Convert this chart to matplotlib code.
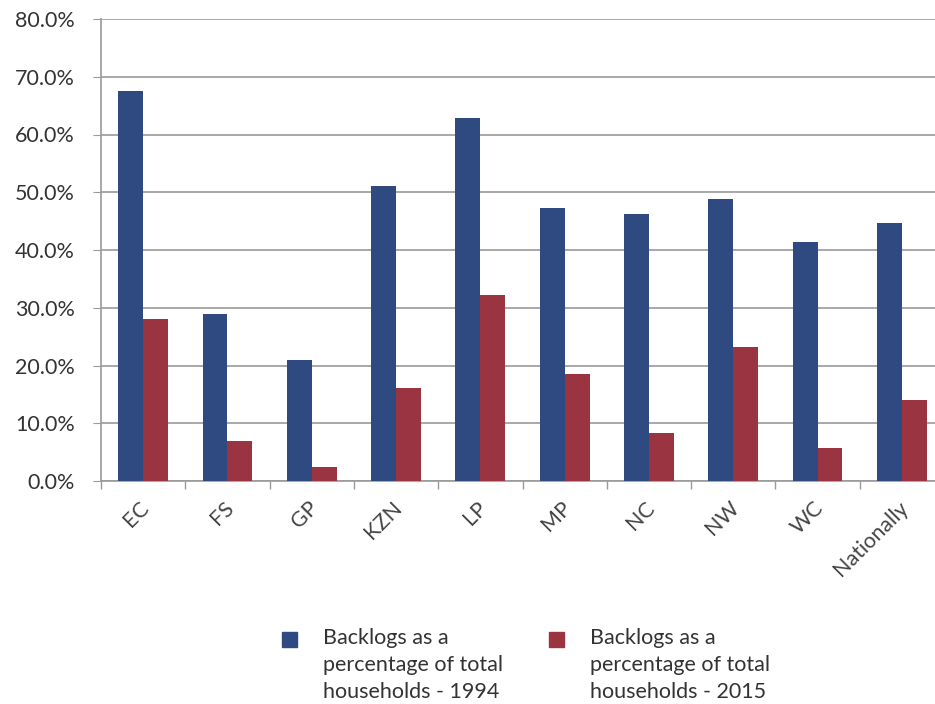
import matplotlib
matplotlib.use("Agg")
import matplotlib.pyplot as plt
import matplotlib.patches as mpatches
import matplotlib.transforms as mtransforms
import numpy as np
from matplotlib.ticker import FuncFormatter, FixedLocator

categories = ["EC", "FS", "GP", "KZN", "LP", "MP", "NC", "NW", "WC", "Nationally"]
backlog_1994 = [67.6, 29.0, 21.0, 51.1, 62.8, 47.3, 46.3, 48.9, 41.3, 44.7]
backlog_2015 = [28.1, 6.9, 2.4, 16.1, 32.2, 18.5, 8.3, 23.2, 5.7, 14.0]
series_labels = ["Backlogs as a\npercentage of total\nhouseholds - 1994",
                 "Backlogs as a\npercentage of total\nhouseholds - 2015"]
series_colors = ['#2E4A80', '#9A3441']

plt.rcParams['font.family'] = ['Lato', 'DejaVu Sans']
text_color = '#333333'
fs = 15.5

fig = plt.figure(figsize=(9.35, 7.04), dpi=100)
W, H = 935, 704
left, right, top, bottom = 101, 944, 19, 481
ax = fig.add_axes([left / W, 1 - bottom / H, (right - left) / W, (bottom - top) / H])

x = np.arange(len(categories))
bw = 0.295
b1 = ax.bar(x - bw / 2, backlog_1994, width=bw, color=series_colors[0], zorder=3)
b2 = ax.bar(x + bw / 2, backlog_2015, width=bw, color=series_colors[1], zorder=3)

ax.set_xlim(-0.5, len(categories) - 0.5)
ax.set_ylim(0, 80)
ax.set_yticks(np.arange(0, 81, 10))
ax.yaxis.set_major_formatter(FuncFormatter(lambda v, p: f"{v:.1f}%"))
ax.grid(axis='y', color='#9a9a9a', linewidth=1.2, zorder=0)

for s in ['top', 'right']:
    ax.spines[s].set_visible(False)
for s in ['left', 'bottom']:
    ax.spines[s].set_color('#9a9a9a')
    ax.spines[s].set_linewidth(1.2)

ax.tick_params(axis='y', length=6, color='#9a9a9a', labelsize=fs, labelcolor=text_color, pad=13)
ax.set_xticks(x)
ax.set_xticklabels(categories, rotation=45, ha='right', rotation_mode='anchor',
                   fontsize=fs, color='#444444')
ax.tick_params(axis='x', which='major', length=0, pad=12)
offset = mtransforms.ScaledTranslation(-3 / 72, 0, fig.dpi_scale_trans)
for lbl in ax.get_xticklabels():
    lbl.set_transform(lbl.get_transform() + offset)
ax.xaxis.set_minor_locator(FixedLocator(np.arange(-0.5, len(categories), 1.0)))
ax.tick_params(axis='x', which='minor', length=6, color='#9a9a9a', width=1)

# legend (drawn manually so the swatch aligns with the first text line)
legend_handles_x = [282, 549]
legend_text_x = [323, 590]
for hx, tx, lab, col in zip(legend_handles_x, legend_text_x, series_labels, series_colors):
    fig.patches.append(mpatches.Rectangle((hx / W, 1 - 647 / H), 15 / W, 15 / H,
                                          transform=fig.transFigure, color=col, figure=fig))
    fig.text(tx / W, 1 - 628 / H, lab, ha='left', va='top', fontsize=fs,
             color=text_color, linespacing=1.45)

fig.savefig("out.png", dpi=100)
